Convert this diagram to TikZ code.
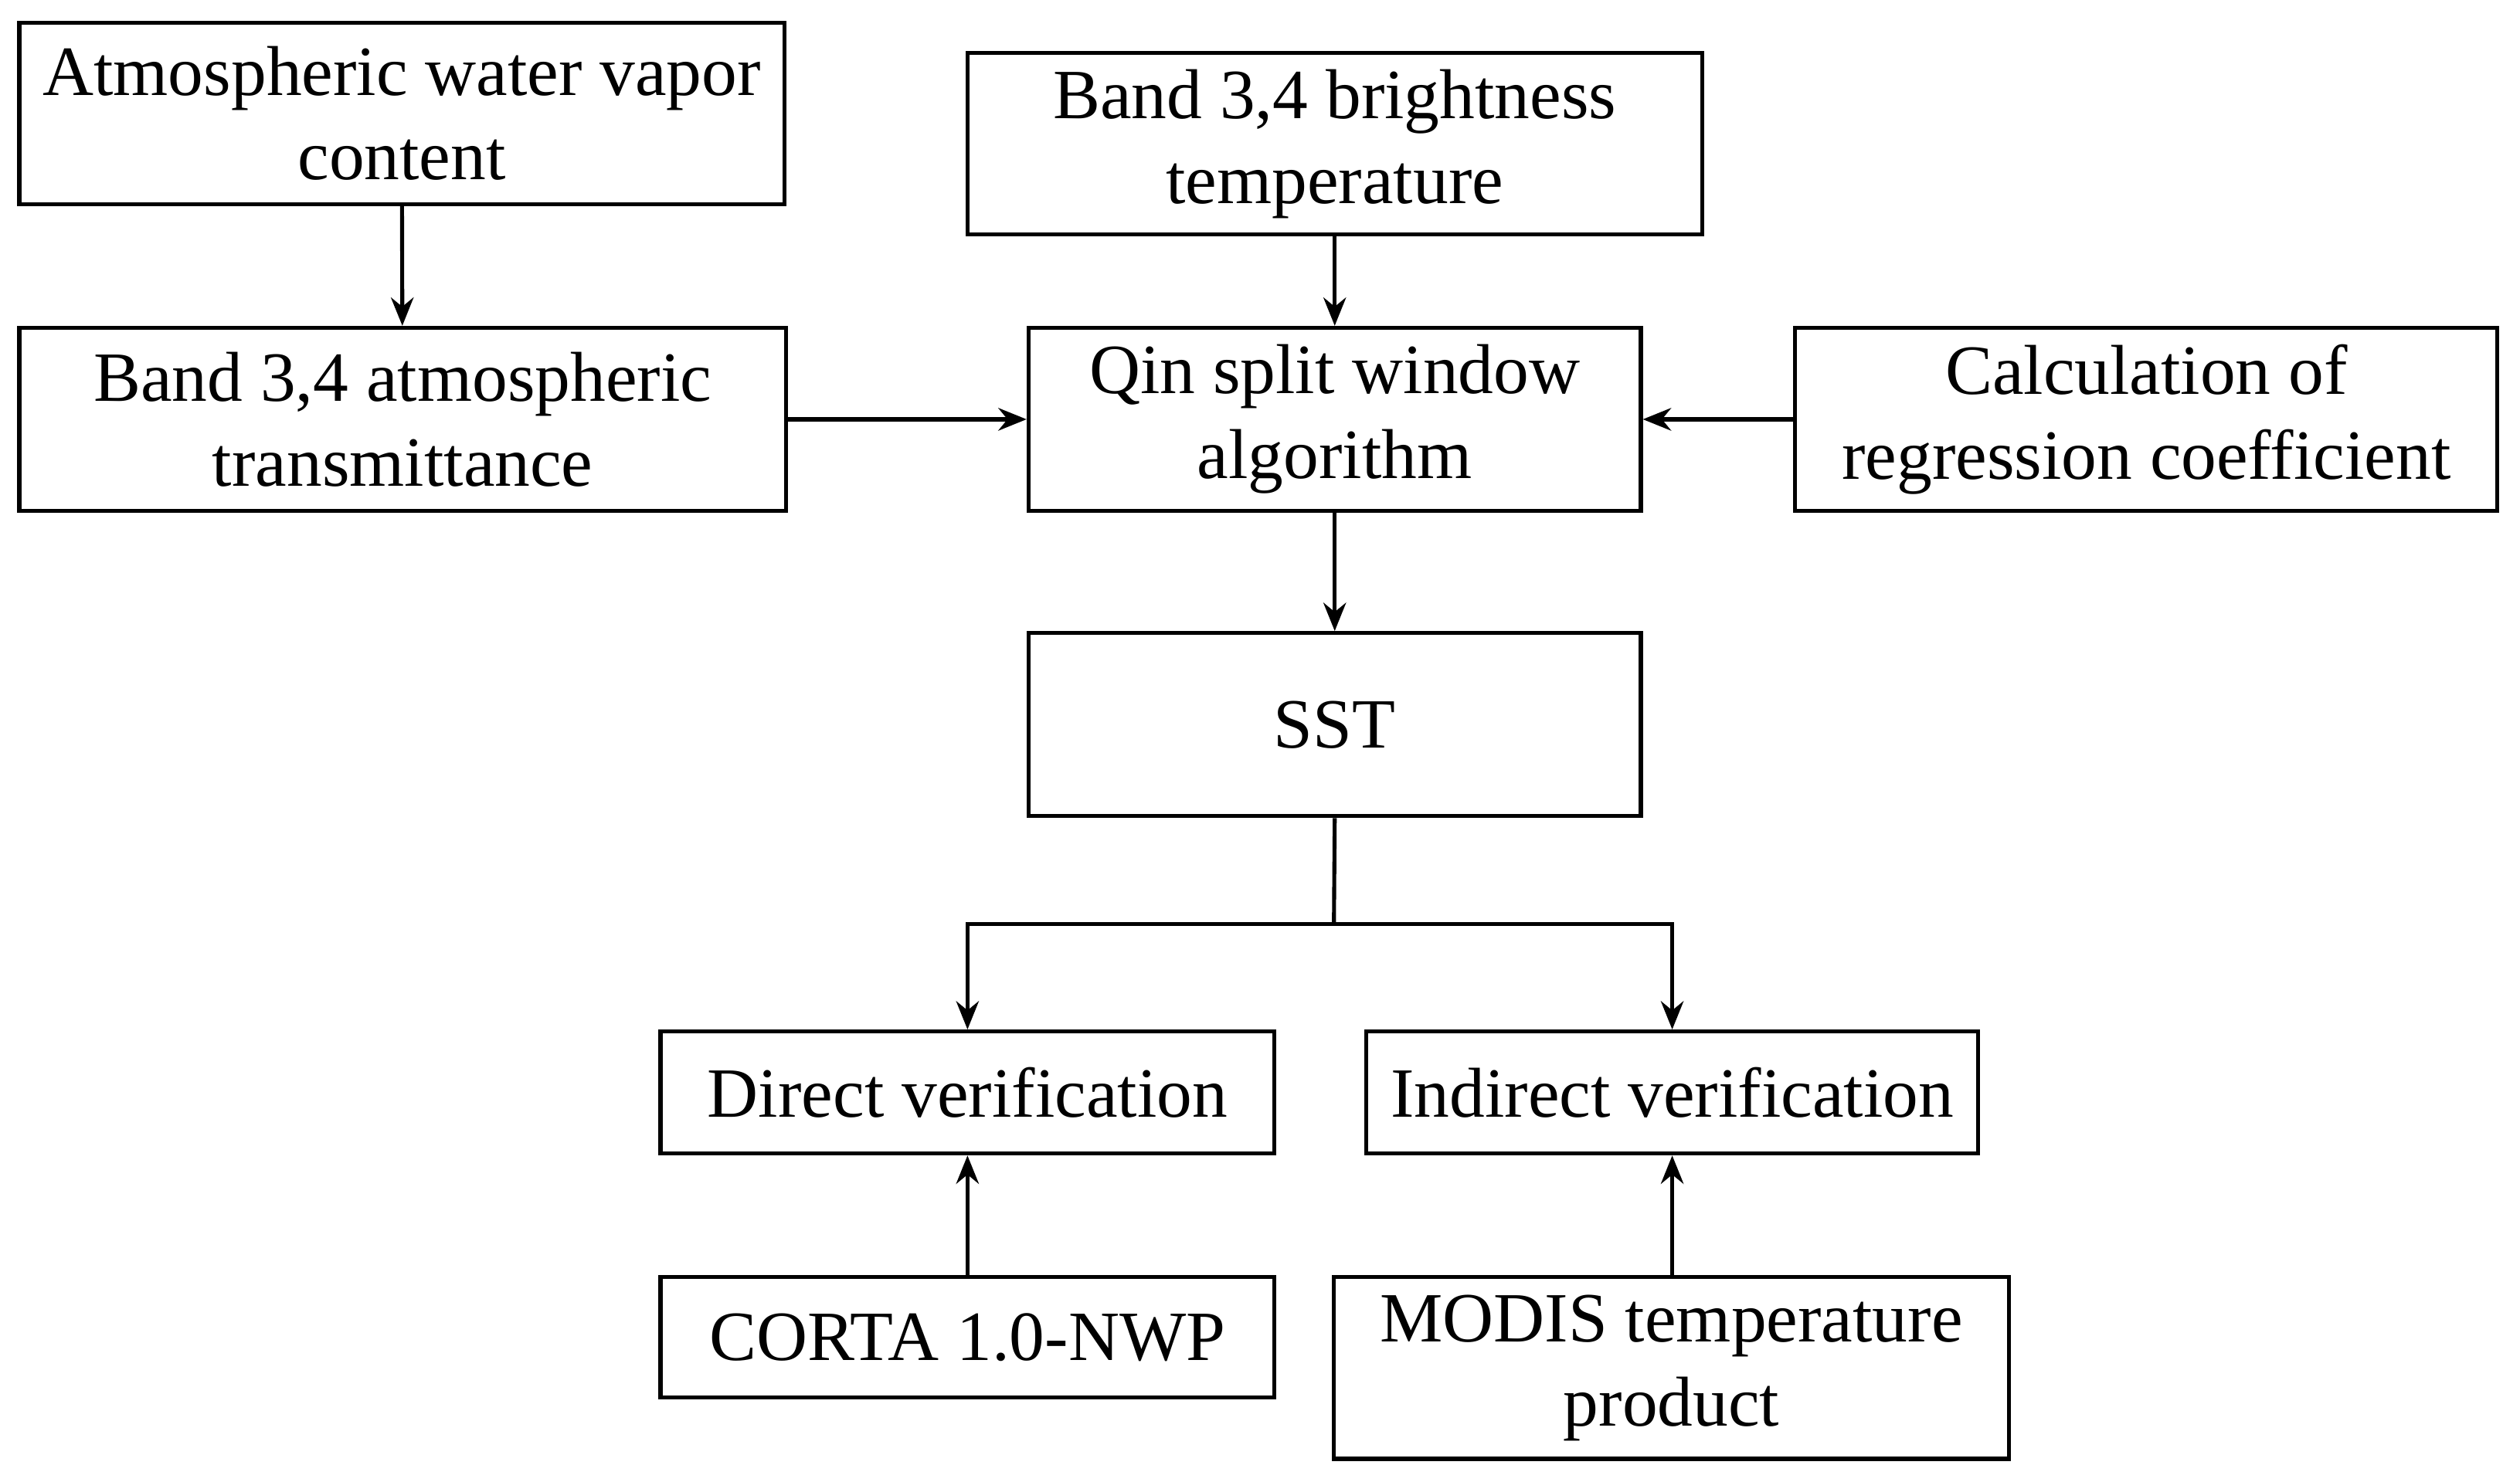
\documentclass[tikz,border=0pt]{standalone}
\usepackage{fontspec}
\setmainfont{Liberation Serif}
\usetikzlibrary{arrows.meta}
\begin{document}
\begin{tikzpicture}[x=0.01cm,y=-0.01cm,
 box/.style={draw,line width=0.7pt,inner sep=0pt,align=center,font=\fontsize{12.5}{15}\selectfont},
 arr/.style={line width=0.7pt,-{Stealth[length=5pt,width=4pt]}}]
\useasboundingbox (0,0) rectangle (1568,922);
\newcommand{\bx}[6]{\node[box,minimum width={(#4-#2)*0.01cm},minimum height={(#5-#3)*0.01cm}] (#1) at ({(#2+#4)/2},{(#3+#5)/2}) {#6};}
\bx{A}{12}{14}{488}{127}{Atmospheric water vapor\\content}
\bx{B}{602}{33}{1059}{146}{Band 3,4 brightness\\temperature}
\bx{C}{12}{204}{489}{318}{Band 3,4 atmospheric\\transmittance}
\bx{D}{640}{204}{1021}{318}{Qin split window\\algorithm}
\bx{E}{1117}{204}{1554}{318}{Calculation of\\regression coefficient}
\bx{F}{640}{394}{1021}{508}{SST}
\bx{G}{411}{642}{793}{718}{Direct verification}
\bx{H}{850}{642}{1231}{718}{Indirect verification}
\bx{I}{411}{795}{793}{870}{CORTA 1.0-NWP}
\bx{J}{830}{795}{1250}{908}{MODIS temperature\\product}
\draw[arr] (A) -- (C);
\draw[arr] (B) -- (D);
\draw[arr] (C) -- (D);
\draw[arr] (E) -- (D);
\draw[arr] (D) -- (F);
\coordinate (s) at (830,575);
\draw[line width=0.7pt] (F.south) -- (s);
\draw[arr] (s) -| (G.north);
\draw[arr] (s) -| (H.north);
\draw[arr] (I) -- (G);
\draw[arr] (J.north -| H.north) -- (H.south);
\end{tikzpicture}
\end{document}
